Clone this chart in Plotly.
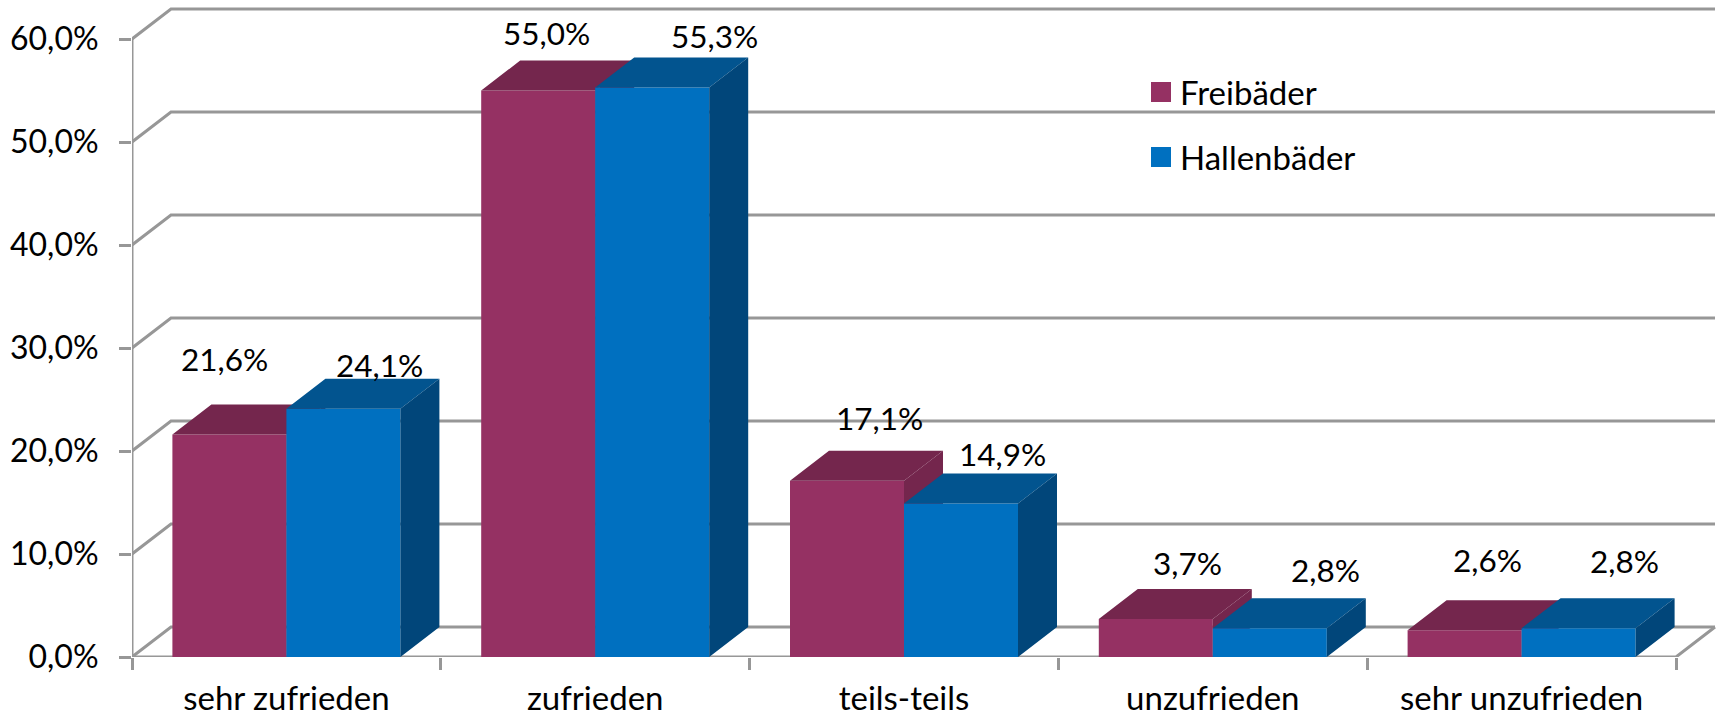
import plotly.graph_objects as go

# ---------- data ----------
categories = ["sehr zufrieden", "zufrieden", "teils-teils", "unzufrieden", "sehr unzufrieden"]
freibaeder = [21.6, 55.0, 17.1, 3.7, 2.6]
hallenbaeder = [24.1, 55.3, 14.9, 2.8, 2.8]
value_ticks = [0, 10, 20, 30, 40, 50, 60]
value_tick_labels = ["0,0%", "10,0%", "20,0%", "30,0%", "40,0%", "50,0%", "60,0%"]

# ---------- style / geometry ----------
W, H = 1721, 718
X0_PX, Y0_PX = 132, 657
CAT_PX, UNIT_PX = 308.8, 10.3
BAR_W = 114 / CAT_PX
DX, DY = 39 / CAT_PX, 30 / UNIT_PX
GRID = "#979797"
FONT = "Lato"
FS_VALUE = 31.5
FS_YTICK = 32
FS_CAT = 33
COL_F = dict(front="#953163", top="#74264D", side="#74264D")
COL_H = dict(front="#0070C0", top="#02548F", side="#01467A")
# label offsets from the bar's top centre, in pixels (right, up)
label_shift_f = [(-5, 76), (8, 58), (32, 63), (32, 56), (23, 70)]
label_shift_h = [(36, 44), (62, 51), (41, 50), (56, 58), (46, 67)]

x_range = [0, (W - X0_PX) / CAT_PX]
y_range = [0, Y0_PX / UNIT_PX]
n = len(categories)
centers = [i + 0.5 for i in range(n)]


def fmt(v):
    return f"{v:.1f}".replace(".", ",") + "%"


fig = go.Figure()

# wall and floor lines, underneath everything
gx, gy = [], []
for v in value_ticks:
    gx += [0, DX, n + DX, None]
    gy += [v, v + DY, v + DY, None]
gx += [0, 0, None, 0, n, n + DX]
gy += [0, value_ticks[-1], None, 0, 0, DY]
fig.add_trace(go.Scatter(x=gx, y=gy, mode="lines", line=dict(color=GRID, width=3),
                         cliponaxis=False, hoverinfo="skip", showlegend=False,
                         xaxis="x", yaxis="y"))


def add_series(name, values, colors, offset, xa, ya):
    fig.add_trace(go.Bar(name=name, x=centers, y=values, width=BAR_W, offset=offset,
                         marker=dict(color=colors["front"], line=dict(width=0)),
                         showlegend=False, xaxis=xa, yaxis=ya))
    tx, ty, sx, sy = [], [], [], []
    for c, v in zip(centers, values):
        l = c + offset
        r = l + BAR_W
        tx += [l, r, r + DX, l + DX, l, None]
        ty += [v, v, v + DY, v + DY, v, None]
        sx += [r, r + DX, r + DX, r, r, None]
        sy += [0, DY, v + DY, v, 0, None]
    for px, py, col in ((tx, ty, colors["top"]), (sx, sy, colors["side"])):
        fig.add_trace(go.Scatter(x=px, y=py, mode="lines", fill="toself", fillcolor=col,
                                 line=dict(width=0, color=col), hoverinfo="skip",
                                 cliponaxis=False, showlegend=False, xaxis=xa, yaxis=ya))


add_series("Freibäder", freibaeder, COL_F, -BAR_W, "x2", "y2")
add_series("Hallenbäder", hallenbaeder, COL_H, 0, "x3", "y3")

annotations = []
for values, offset, shifts in ((freibaeder, -BAR_W / 2, label_shift_f),
                               (hallenbaeder, BAR_W / 2, label_shift_h)):
    for c, v, (sx, sy) in zip(centers, values, shifts):
        annotations.append(dict(x=c + offset, y=v, xref="x", yref="y", text=fmt(v),
                                showarrow=False, xshift=sx, yshift=sy,
                                xanchor="center", yanchor="middle",
                                font=dict(family=FONT, size=FS_VALUE, color="black")))

# legend
shapes = []
for label, col, cy in (("Freibäder", COL_F["front"], 92), ("Hallenbäder", COL_H["front"], 157)):
    shapes.append(dict(type="rect", xref="paper", yref="paper", layer="above",
                       x0=(1151 - X0_PX) / (W - X0_PX), x1=(1171 - X0_PX) / (W - X0_PX),
                       y0=(Y0_PX - cy - 10) / Y0_PX, y1=(Y0_PX - cy + 10) / Y0_PX,
                       fillcolor=col, line=dict(width=0)))
    annotations.append(dict(xref="paper", yref="paper", x=(1178 - X0_PX) / (W - X0_PX),
                            y=(Y0_PX - cy) / Y0_PX, text=label, showarrow=False,
                            xanchor="left", yanchor="middle",
                            font=dict(family=FONT, size=FS_CAT, color="black")))

hidden = dict(visible=False, range=x_range, fixedrange=True)
hidden_y = dict(visible=False, range=y_range, fixedrange=True)

fig.update_layout(
    width=W, height=H,
    margin=dict(l=X0_PX, r=0, t=0, b=H - Y0_PX, pad=0),
    paper_bgcolor="white", plot_bgcolor="white",
    showlegend=False, barmode="overlay",
    font=dict(family=FONT, size=FS_CAT, color="black"),
    xaxis=dict(range=x_range, showgrid=False, zeroline=False, showline=False, fixedrange=True,
               automargin=False,
               tickmode="array", tickvals=centers, ticktext=categories, ticks="",
               ticklabelstandoff=19, tickfont=dict(family=FONT, size=FS_CAT, color="black"),
               minor=dict(tickmode="array", tickvals=list(range(n + 1)), ticks="outside",
                          ticklen=12, tickwidth=3, tickcolor=GRID)),
    yaxis=dict(range=y_range, showgrid=False, zeroline=False, showline=False, fixedrange=True,
               automargin=False,
               tickmode="array", tickvals=value_ticks, ticktext=value_tick_labels,
               ticks="outside", ticklen=12, tickwidth=3, tickcolor=GRID,
               ticklabelstandoff=14, tickfont=dict(family=FONT, size=FS_YTICK, color="black")),
    xaxis2=dict(overlaying="x", **hidden),
    yaxis2=dict(overlaying="y", **hidden_y),
    xaxis3=dict(overlaying="x", **hidden),
    yaxis3=dict(overlaying="y", **hidden_y),
    annotations=annotations, shapes=shapes,
)

fig.write_html("out.html", config=dict(displayModeBar=False),
               post_script="document.body.style.margin='0';document.body.style.overflow='hidden';")
